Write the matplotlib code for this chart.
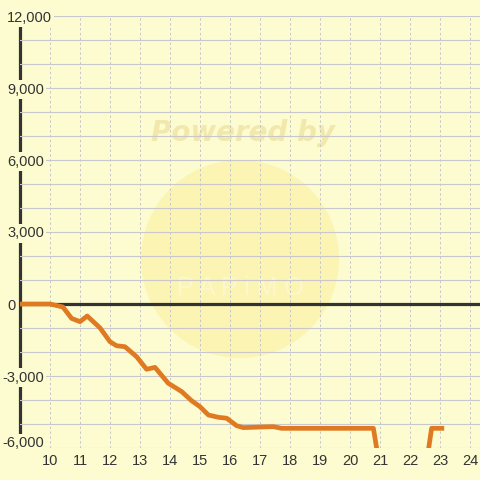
import matplotlib
matplotlib.use("Agg")
import matplotlib.pyplot as plt
from matplotlib.ticker import MultipleLocator, NullFormatter
from matplotlib.patches import Circle
from matplotlib.transforms import blended_transform_factory, offset_copy

# valores
horas = [9.0, 10.0, 10.43, 10.72, 11.0, 11.24, 11.67, 12.0, 12.22, 12.5, 12.89,
         13.22, 13.5, 13.94, 14.39, 14.72, 15.0, 15.28, 15.61, 15.89, 16.22,
         16.44, 17.44, 17.72, 20.78, 21.8, 22.72, 23.06]
saldo = [0, 0, -125, -600, -735, -500, -1000, -1570, -1740, -1780, -2200,
         -2720, -2640, -3300, -3650, -4030, -4280, -4625, -4720, -4760, -5070,
         -5150, -5110, -5180, -5180, -13000, -5180, -5180]
x_ticks = list(range(10, 25))
y_labels = [12000, 9000, 6000, 3000, 0, -3000, -6000]

fondo = "#fcfcd0"
naranja = "#e07a22"
oscuro = "#333333"

plt.rcParams['font.family'] = ['Liberation Sans', 'DejaVu Sans']

fig = plt.figure(figsize=(4.8, 4.8), dpi=100, facecolor=fondo)
ax = fig.add_axes([20 / 480, 32 / 480, 460 / 480, 432 / 480])
ax.set_facecolor(fondo)
ax.set_xlim(9, 9 + 460 / 30)
ax.set_ylim(-6000, 12000)

for s in ax.spines.values():
    s.set_visible(False)

# marca de agua
circulo = Circle((240 / 480, 1 - 259 / 480), 99 / 480, transform=fig.transFigure,
                 facecolor="#fbee9c", alpha=0.55, edgecolor="none", zorder=0.2)
ax.add_patch(circulo)
ax.text(243 / 480, 1 - 133 / 480, "Powered by", transform=fig.transFigure,
        fontsize=20, fontweight="bold", fontstyle="italic", color="#f3e8ac",
        ha="center", va="center", zorder=0.3, family="DejaVu Sans")
ax.text(240 / 480, 1 - 288 / 480, "P A P i M O", transform=fig.transFigure,
        fontsize=18, color="white", alpha=0.35, ha="center", va="center", zorder=0.3)

ax.yaxis.set_major_locator(MultipleLocator(1000))
ax.yaxis.set_major_formatter(NullFormatter())
ax.set_xticks(x_ticks)
ax.set_xticklabels([str(t) for t in x_ticks])

ax.grid(axis="y", color="#c8c8cc", linewidth=0.8)
ax.grid(axis="x", color="#c6c6cc", linewidth=0.7, linestyle=(0, (2.5, 2.5)))

ax.tick_params(axis="y", length=0)
ax.tick_params(axis="x", length=0, pad=4, labelsize=10.5, labelcolor=oscuro)

# etiquetas del eje y, alineadas a la izquierda (el signo menos sobresale)
trans = blended_transform_factory(fig.transFigure, ax.transData)
for v in y_labels:
    x0 = 2.7 if v < 0 else 7
    dy = 5 if v == -6000 else -1.5
    t = offset_copy(trans, fig=fig, x=0, y=dy, units="dots")
    ax.text(x0 / 480, v, f"{v:,.0f}", transform=t, ha="left", va="center",
            fontsize=10.5, color=oscuro, zorder=5, clip_on=False,
            bbox=dict(facecolor=fondo, edgecolor="none", pad=1.5))

# eje vertical y linea del cero
ax.axvline(9, color=oscuro, linewidth=2.3, clip_on=False, zorder=1)
ax.axhline(0, color=oscuro, linewidth=2.3, zorder=1.8)

ax.plot(horas, saldo, color=naranja, linewidth=3.4, solid_joinstyle="round",
        zorder=3)

fig.savefig("out.png", dpi=100, facecolor=fondo)
